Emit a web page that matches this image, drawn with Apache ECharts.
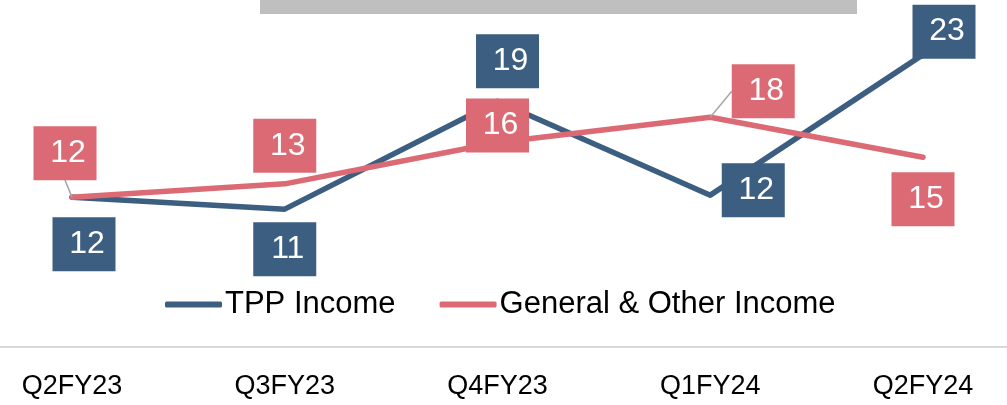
<!DOCTYPE html>
<html>
<head>
<meta charset="utf-8">
<script src="https://cdn.jsdelivr.net/npm/echarts@6/dist/echarts.min.js"></script>
<style>
  html, body { margin: 0; padding: 0; background: #ffffff; }
  #chart { width: 1007px; height: 405px; }
</style>
</head>
<body>
<div id="chart"></div>
<script>
// ---- data ----
var categories = ['Q2FY23', 'Q3FY23', 'Q4FY23', 'Q1FY24', 'Q2FY24'];
var tppIncome = [12.0, 11.1, 19.2, 12.15, 22.7];
var generalIncome = [12.0, 13.0, 16.1, 18.0, 15.0];
var seriesNames = ['TPP Income', 'General & Other Income'];

// ---- styling (label box offsets relative to their points) ----
var BLUE = '#3c5e80';
var RED = '#dc6a74';
var tppLabelShift = [[12, 47], [0, 40], [10, -40], [43, -5], [21, -23]];
var genLabelShift = [[-7, -44], [0, -38], [0, -17], [53, -26], [0, 42]];
var genLeader = [true, false, false, true, false];

var FONT = 'Liberation Sans';

function buildData(values, leader) {
  return values.map(function (v, i) {
    var item = { value: v };
    if (leader && leader[i]) {
      item.labelLine = { show: true, lineStyle: { color: '#a6a6a6', width: 1.5 } };
    }
    return item;
  });
}

function labelCfg(color) {
  return {
    show: true,
    position: 'inside',
    formatter: function (p) { return String(Math.round(p.value)); },
    color: '#ffffff',
    fontFamily: FONT,
    fontSize: 32,
    backgroundColor: color,
    width: 57,
    height: 54,
    lineHeight: 54,
    padding: [0, 0, 0, 6],
    align: 'center',
    verticalAlign: 'middle'
  };
}

function layoutFrom(shifts) {
  return function (p) {
    var s = shifts[p.dataIndex];
    return { dx: s[0], dy: s[1] };
  };
}

var chart = echarts.init(document.getElementById('chart'), null, { renderer: 'canvas' });

var option = {
  animation: false,
  backgroundColor: '#ffffff',
  graphic: [{
    type: 'rect',
    shape: { x: 260, y: 0, width: 597, height: 14 },
    style: { fill: '#bfbfbf' },
    silent: true
  }],
  legend: {
    data: seriesNames,
    left: 165,
    top: 289,
    padding: 0,
    itemWidth: 57,
    itemHeight: 6,
    itemGap: 44,
    icon: 'roundRect',
    textStyle: { fontFamily: FONT, fontSize: 31, color: '#000000', lineHeight: 30, padding: [0, 0, 0, -2] }
  },
  grid: [
    { left: 72, right: 84, top: 24, bottom: 58, containLabel: false },
    { left: 0, right: 0, top: 24, bottom: 58, containLabel: false }
  ],
  xAxis: [
    {
      type: 'category',
      gridIndex: 0,
      data: categories,
      boundaryGap: false,
      axisLine: { show: false },
      axisTick: { show: false },
      splitLine: { show: false },
      axisLabel: { fontFamily: FONT, fontSize: 27, color: '#000000', margin: 26 }
    },
    {
      type: 'value',
      gridIndex: 1,
      min: 0, max: 1,
      axisLine: { show: true, lineStyle: { color: '#d9d9d9', width: 2 } },
      axisTick: { show: false },
      axisLabel: { show: false },
      splitLine: { show: false }
    }
  ],
  yAxis: [
    { type: 'value', gridIndex: 0, min: 0.75, max: 25, show: false, splitLine: { show: false } },
    { type: 'value', gridIndex: 1, min: 0, max: 1, show: false }
  ],
  series: [
    {
      name: seriesNames[0],
      type: 'line',
      xAxisIndex: 0, yAxisIndex: 0,
      data: buildData(tppIncome, null),
      symbol: 'circle',
      symbolSize: 0.1,
      showSymbol: true,
      color: BLUE,
      lineStyle: { color: BLUE, width: 5.5, cap: 'round', join: 'round' },
      itemStyle: { color: BLUE },
      label: labelCfg(BLUE),
      labelLayout: layoutFrom(tppLabelShift),
      z: 2
    },
    {
      name: seriesNames[1],
      type: 'line',
      xAxisIndex: 0, yAxisIndex: 0,
      data: buildData(generalIncome, genLeader),
      symbol: 'circle',
      symbolSize: 0.1,
      showSymbol: true,
      color: RED,
      lineStyle: { color: RED, width: 5.5, cap: 'round', join: 'round' },
      itemStyle: { color: RED },
      label: labelCfg(RED),
      labelLine: { show: false, lineStyle: { color: '#a6a6a6', width: 1.5 } },
      labelLayout: layoutFrom(genLabelShift),
      z: 3
    }
  ]
};

chart.setOption(option);
</script>
</body>
</html>
